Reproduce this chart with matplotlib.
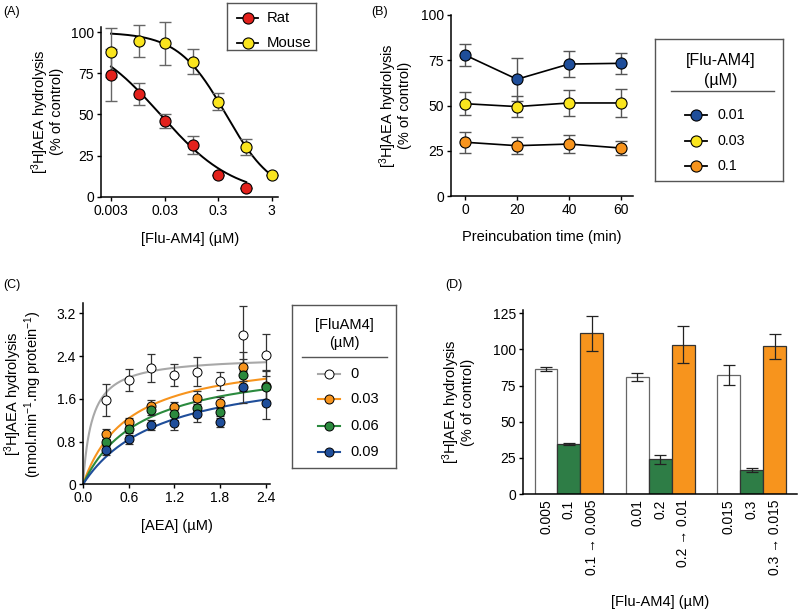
import numpy as np
import matplotlib
matplotlib.use("Agg")
import matplotlib.pyplot as plt
from matplotlib.transforms import blended_transform_factory

plt.rcParams['font.family'] = ['Liberation Sans', 'DejaVu Sans']
plt.rcParams['mathtext.fontset'] = 'custom'
plt.rcParams['mathtext.rm'] = 'Liberation Sans'
plt.rcParams['mathtext.it'] = 'Liberation Sans:italic'
plt.rcParams['mathtext.default'] = 'regular'

# ---------------- data ----------------
# Panel A
a_conc = [0.003, 0.01, 0.03, 0.1, 0.3, 1, 3]
a_rat = [74, 62.5, 46.2, 31.4, 13.5, 5.1]
a_rat_err = [16, 6.6, 4.4, 5.6, 0, 0]
a_mouse = [87.8, 94.7, 93.2, 82.2, 57.8, 30.4, 13]
a_mouse_err = [15, 9.7, 13.2, 7.6, 5.1, 4.9, 0]
a_series = ['Rat', 'Mouse']
a_rat_fit = (100, 0.025, 0.63)      # top, IC50, Hill slope
a_mouse_fit = (100, 0.42, 0.97)

# Panel B
b_time = [0, 20, 40, 60]
b_labels = ['0.01', '0.03', '0.1']
b_c001 = [77.9, 64.5, 72.9, 73.3]
b_c001_err = [6, 12, 7.3, 5.7]
b_c003 = [51, 49.4, 51.4, 51.4]
b_c003_err = [6.4, 6, 7.2, 7.8]
b_c01 = [29.7, 27.8, 28.7, 26.5]
b_c01_err = [5.7, 4.8, 4.9, 3.9]

# Panel C
c_aea = [0.3, 0.6, 0.9, 1.2, 1.5, 1.8, 2.1, 2.4]
c_labels = ['0', '0.03', '0.06', '0.09']
c_0 = [1.58, 1.95, 2.18, 2.05, 2.11, 1.94, 2.79, 2.42]
c_0_err = [0.3, 0.21, 0.26, 0.2, 0.27, 0.17, 0.55, 0.4]
c_003 = [0.94, 1.17, 1.47, 1.44, 1.62, 1.53, 2.2, 1.84]
c_003_err = [0.1, 0.08, 0.1, 0.1, 0.12, 0.1, 0.27, 0.3]
c_006 = [0.8, 1.04, 1.39, 1.31, 1.43, 1.35, 2.05, 1.82]
c_006_err = [0.09, 0.08, 0.1, 0.1, 0.12, 0.1, 0.3, 0.3]
c_009 = [0.64, 0.84, 1.11, 1.14, 1.32, 1.17, 1.82, 1.52]
c_009_err = [0.09, 0.08, 0.1, 0.13, 0.15, 0.1, 0.3, 0.3]
c_fits = [(2.40, 0.12), (2.47, 0.60), (2.35, 0.77), (2.26, 1.02)]  # Vmax, Km

# Panel D
d_labels = ['0.005', '0.1', '0.1 \u2192 0.005',
            '0.01', '0.2', '0.2 \u2192 0.01',
            '0.015', '0.3', '0.3 \u2192 0.015']
d_values = [86.5, 34.6, 111.2, 81, 24, 103.3, 82.3, 16.8, 102.2]
d_errors = [1.5, 0.7, 12.2, 3, 3, 13, 7.2, 1.5, 8.7]
d_pos = [0, 1, 2, 4, 5, 6, 8, 9, 10]

# ---------------- styling ----------------
W, H = 800, 610
RED = '#e3211c'
YEL = '#fae51e'
BLUE = '#1f4e9a'
ORANGE = '#f7941d'
GREEN = '#2b8a3e'
BARGREEN = '#2e7d46'
GREY = '#a8a8a8'
FS_TICK = 10
FS_LAB = 10.5
YLAB_A = r'[$^{3}$H]AEA hydrolysis' + '\n(% of control)'
YLS = 0.88

fig = plt.figure(figsize=(W / 100, H / 100), dpi=100)


def pax(x0, y0, x1, y1):
    return fig.add_axes([x0 / W, 1 - y1 / H, (x1 - x0) / W, (y1 - y0) / H])


def style(ax):
    for s in ['top', 'right']:
        ax.spines[s].set_visible(False)
    for s in ['left', 'bottom']:
        ax.spines[s].set_linewidth(1.1)
    ax.tick_params(direction='out', length=3, width=1.0, labelsize=FS_TICK, pad=2)


def place_labels(ax, ylab_x, xlab_y):
    ax.yaxis.set_label_coords(ylab_x / W, 0.5,
                              transform=blended_transform_factory(fig.transFigure, ax.transAxes))
    ax.xaxis.set_label_coords(0.5, 1 - xlab_y / H,
                              transform=blended_transform_factory(ax.transAxes, fig.transFigure))


def unclip(cont):
    for art in cont.lines[1] + cont.lines[2]:
        art.set_clip_on(False)
    if cont.lines[0] is not None:
        cont.lines[0].set_clip_on(False)


def legend_box(x0, y0, x1, y1):
    lax = pax(x0, y0, x1, y1)
    lax.set_xlim(x0, x1)
    lax.set_ylim(y1, y0)
    lax.set_xticks([])
    lax.set_yticks([])
    for s in lax.spines.values():
        s.set_color('#555555')
        s.set_linewidth(1.0)
    lax.patch.set_alpha(0)
    return lax


# ---------------- Panel A ----------------
axA = pax(101, 26.7, 278.3, 196.7)
style(axA)
axA.set_xscale('log')
axA.set_xlim(0.00195, 3.98)
axA.set_ylim(0, 103.4)


def hill(x, p):
    top, ic50, h = p
    return top / (1 + (x / ic50) ** h)


xr = np.logspace(np.log10(a_conc[0]), np.log10(a_conc[5]), 200)
xm = np.logspace(np.log10(a_conc[0]), np.log10(a_conc[6]), 200)
axA.plot(xr, hill(xr, a_rat_fit), color='k', lw=1.4, zorder=2)
axA.plot(xm, hill(xm, a_mouse_fit), color='k', lw=1.4, zorder=2)
for vals, errs, col in [(a_mouse, a_mouse_err, YEL), (a_rat, a_rat_err, RED)]:
    x = a_conc[:len(vals)]
    c = axA.errorbar(x, vals, yerr=errs, fmt='none', ecolor='#666666', elinewidth=1.0,
                     capsize=4.3, capthick=1.0, zorder=3)
    unclip(c)
    axA.plot(x, vals, 'o', ms=8, mfc=col, mec='k', mew=0.8, zorder=4, clip_on=False)
axA.set_xticks([0.003, 0.03, 0.3, 3])
axA.set_xticklabels(['0.003', '0.03', '0.3', '3'])
axA.xaxis.set_minor_locator(matplotlib.ticker.NullLocator())
axA.set_yticks([0, 25, 50, 75, 100])
axA.set_xlabel('[Flu-AM4] (\u00b5M)', fontsize=FS_LAB)
axA.set_ylabel(YLAB_A, fontsize=FS_LAB, linespacing=YLS)
place_labels(axA, 64, 232)

lA = legend_box(227, 3.3, 316, 50)
for yy, lab, col in [(18, a_series[0], RED), (43, a_series[1], YEL)]:
    lA.plot([236.7, 258.3], [yy, yy], color='k', lw=1.3)
    lA.plot([247.5], [yy], 'o', ms=8, mfc=col, mec='k', mew=0.8)
    lA.text(266.7, yy, lab, va='center', ha='left', fontsize=10.7)

# ---------------- Panel B ----------------
axB = pax(450.7, 15, 633, 196)
style(axB)
axB.set_xlim(-5.5, 64.6)
axB.set_ylim(0, 100)
b_sets = [(b_c001, b_c001_err, BLUE), (b_c003, b_c003_err, YEL), (b_c01, b_c01_err, ORANGE)]
for vals, errs, col in b_sets:
    c = axB.errorbar(b_time, vals, yerr=errs, fmt='none', ecolor='#555555', elinewidth=1.0,
                     capsize=4.3, capthick=1.0, zorder=3)
    axB.plot(b_time, vals, '-o', color='k', lw=1.2, ms=8, mfc=col, mec='k', mew=0.8, zorder=4,
             clip_on=False)
axB.set_xticks(b_time)
axB.set_yticks([0, 25, 50, 75, 100])
axB.set_xlabel('Preincubation time (min)', fontsize=FS_LAB)
axB.set_ylabel(YLAB_A, fontsize=FS_LAB, linespacing=YLS)
place_labels(axB, 412, 230)

lB = legend_box(655, 39, 783, 181)
lB.text(721, 60, '[Flu-AM4]', ha='center', va='center', fontsize=11.5)
lB.text(721, 80, '(\u00b5M)', ha='center', va='center', fontsize=11.5)
lB.plot([670.7, 774], [91, 91], color='#555555', lw=1.0)
for yy, lab, (_, _, col) in zip([115, 141, 166], b_labels, b_sets):
    lB.plot([685, 707.3], [yy, yy], color='k', lw=1.3)
    lB.plot([696], [yy], 'o', ms=8, mfc=col, mec='k', mew=0.8)
    lB.text(717, yy, lab, va='center', ha='left', fontsize=10.3)

# ---------------- Panel C ----------------
axC = pax(83, 303, 270, 484.3)
style(axC)
axC.set_xlim(0, 2.457)
axC.set_ylim(0, 3.395)
xc = np.linspace(0, 2.4, 300)
c_sets = [(c_0, c_0_err, 'white', GREY), (c_003, c_003_err, ORANGE, ORANGE),
          (c_006, c_006_err, GREEN, GREEN), (c_009, c_009_err, BLUE, BLUE)]
for (vals, errs, mcol, lcol), (vmax, km) in zip(c_sets, c_fits):
    axC.plot(xc, vmax * xc / (km + xc), color=lcol, lw=1.5, zorder=2)
for vals, errs, mcol, lcol in c_sets:
    c = axC.errorbar(c_aea, vals, yerr=errs, fmt='none', ecolor='#333333', elinewidth=0.9,
                     capsize=3, capthick=0.9, zorder=3)
    unclip(c)
    axC.plot(c_aea, vals, 'o', ms=6.5, mfc=mcol, mec='k', mew=0.7, zorder=4, clip_on=False)
axC.set_xticks([0, 0.6, 1.2, 1.8, 2.4])
axC.set_xticklabels(['0.0', '0.6', '1.2', '1.8', '2.4'])
axC.set_yticks([0, 0.8, 1.6, 2.4, 3.2])
axC.set_yticklabels(['0', '0.8', '1.6', '2.4', '3.2'])
axC.set_xlabel('[AEA] (\u00b5M)', fontsize=FS_LAB)
axC.set_ylabel(r'[$^{3}$H]AEA hydrolysis' + '\n' + r'(nmol.min$^{-1}$.mg protein$^{-1}$)',
               fontsize=FS_LAB, linespacing=YLS)
place_labels(axC, 44, 519)

lC = legend_box(292, 305, 396, 468)
lC.text(344, 325, '[FluAM4]', ha='center', va='center', fontsize=10.5)
lC.text(344, 343, '(\u00b5M)', ha='center', va='center', fontsize=10.5)
lC.plot([302, 387], [357, 357], color='#555555', lw=1.0)
for yy, lab, (_, _, mcol, lcol) in zip([374, 399, 426, 452], c_labels, c_sets):
    lC.plot([318, 340], [yy, yy], color=lcol, lw=1.5)
    lC.plot([329], [yy], 'o', ms=6.5, mfc=mcol, mec='k', mew=0.7)
    lC.text(350, yy, lab, va='center', ha='left', fontsize=10.5)

# ---------------- Panel D ----------------
axD = pax(522.7, 310, 796.7, 494)
style(axD)
axD.set_xlim(-1.02, 10.97)
axD.set_ylim(0, 127.3)
d_colors = ['white', BARGREEN, ORANGE] * 3
d_edges = ['#666666', '#333333', '#333333'] * 3
axD.bar(d_pos, d_values, width=1.0, color=d_colors, edgecolor=d_edges, linewidth=0.9, zorder=2)
c = axD.errorbar(d_pos, d_values, yerr=d_errors, fmt='none', ecolor='#222222', elinewidth=0.9,
                 capsize=4.3, capthick=0.9, zorder=3)
axD.set_xticks(d_pos)
axD.set_xticklabels(d_labels, rotation=90, fontsize=FS_TICK)
axD.tick_params(axis='x', length=0, pad=4)
axD.set_yticks([0, 25, 50, 75, 100, 125])
axD.set_xlabel('[Flu-AM4] (\u00b5M)', fontsize=FS_LAB)
axD.set_ylabel(YLAB_A, fontsize=FS_LAB, linespacing=YLS)
place_labels(axD, 475, 595)

# panel letters
for x, y, t in [(3, 12, '(A)'), (371, 12, '(B)'), (3, 285, '(C)'), (445, 285, '(D)')]:
    fig.text(x / W, 1 - y / H, t, fontsize=9, ha='left', va='center')

fig.savefig('out.png', dpi=100)
